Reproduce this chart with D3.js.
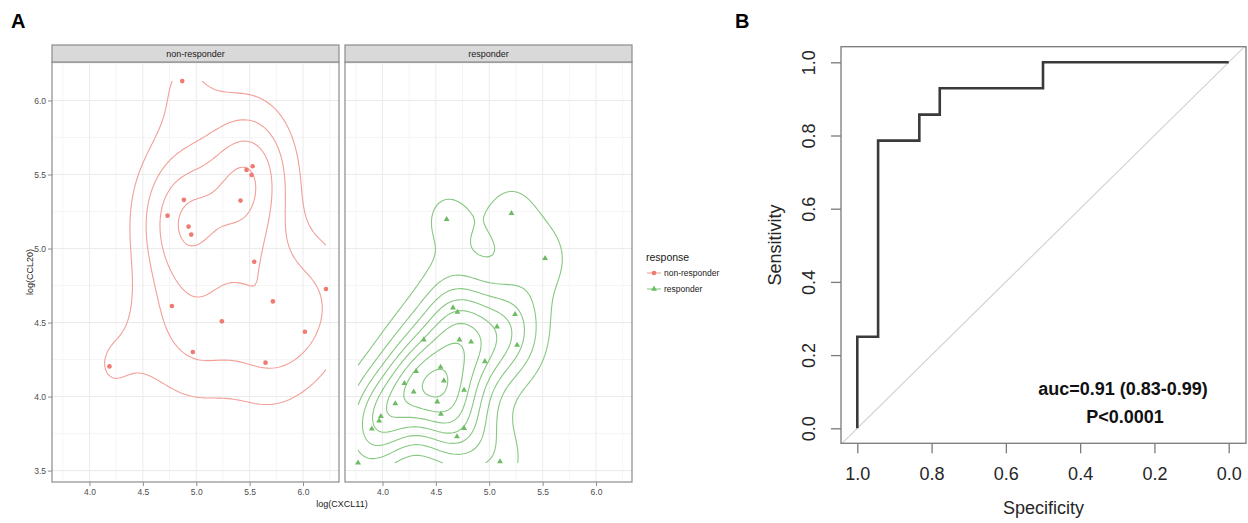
<!DOCTYPE html>
<html>
<head>
<meta charset="utf-8">
<script src="https://cdn.jsdelivr.net/npm/d3@7"></script>
<style>
body { margin: 0; background: #fff; }
text { font-family: "Liberation Sans", Arial, sans-serif; }
</style>
</head>
<body>
<div id="chart"></div>
<script>
// ---- data: panel A (log CXCL11 vs log CCL20, per response group)
var facets = ["non-responder", "responder"];
var nonRespX = [4.869, 5.471, 5.528, 5.518, 4.884, 5.415, 4.731, 4.928, 4.953, 5.543, 6.215, 5.718, 4.772, 5.240, 6.018, 4.968, 5.649, 4.187];
var nonRespY = [6.131, 5.531, 5.556, 5.497, 5.329, 5.324, 5.222, 5.148, 5.094, 4.911, 4.727, 4.643, 4.612, 4.508, 4.438, 4.301, 4.229, 4.204];
var respX = [4.601, 5.208, 5.523, 4.660, 4.702, 5.242, 5.073, 4.387, 4.721, 4.830, 5.261, 4.959, 4.544, 4.315, 4.575, 4.205, 4.764, 4.292, 4.120, 4.513, 4.547, 3.985, 3.969, 3.900, 4.764, 4.698, 3.771, 5.101];
var respY = [5.197, 5.238, 4.934, 4.600, 4.571, 4.555, 4.472, 4.384, 4.384, 4.370, 4.348, 4.237, 4.199, 4.170, 4.107, 4.089, 4.044, 4.032, 3.953, 3.965, 3.882, 3.866, 3.836, 3.782, 3.786, 3.730, 3.552, 3.561];
var xTicks = [4.0, 4.5, 5.0, 5.5, 6.0];
var yTicks = [3.5, 4.0, 4.5, 5.0, 5.5, 6.0];

// ---- data: panel B (ROC corners)
var rocSpec = [1, 1, 0.944, 0.944, 0.833, 0.833, 0.778, 0.778, 0.5, 0.5, 0];
var rocSens = [0, 0.25, 0.25, 0.786, 0.786, 0.857, 0.857, 0.929, 0.929, 1, 1];
var rocTicks = [1.0, 0.8, 0.6, 0.4, 0.2, 0.0];
var aucText = "auc=0.91 (0.83-0.99)";
var pText = "P<0.0001";

var colors = { "non-responder": "#EE7B72", "responder": "#6DBB63" };
var lineColors = { "non-responder": "#F2A098", "responder": "#88C882" };

var svg = d3.select("#chart").append("svg")
    .attr("width", 1248)
    .attr("height", 523);

// panel letters
svg.append("text").attr("x", 11).attr("y", 28).attr("font-size", 20).attr("font-weight", "bold").text("A");
svg.append("text").attr("x", 735).attr("y", 28).attr("font-size", 20).attr("font-weight", "bold").text("B");

// ================= panel A =================
var groups = [
    { name: facets[0], xs: nonRespX, ys: nonRespY },
    { name: facets[1], xs: respX, ys: respY }
];
var allX = nonRespX.concat(respX), allY = nonRespY.concat(respY);
var xr = d3.extent(allX), yr = d3.extent(allY);
var xPad = (xr[1] - xr[0]) * 0.05, yPad = (yr[1] - yr[0]) * 0.05;

var panelTop = 62, panelBottom = 482, panelW = 287;
var panelLefts = [52, 345];

var yScale = d3.scaleLinear()
    .domain([yr[0] - yPad, yr[1] + yPad])
    .range([panelBottom, panelTop]);

// MASS::bandwidth.nrd
function bwNrd(v) {
    var h = (d3.quantile(v, 0.75) - d3.quantile(v, 0.25)) / 1.34;
    return 4 * 1.06 * Math.min(d3.deviation(v), h) * Math.pow(v.length, -0.2);
}
function dnorm(u) { return Math.exp(-0.5 * u * u) / Math.sqrt(2 * Math.PI); }

// MASS::kde2d on a n x n grid over the lims
function kde2d(xs, ys, lims, n) {
    var hx = bwNrd(xs) / 4, hy = bwNrd(ys) / 4;
    var gx = d3.range(n).map(i => lims[0] + (lims[1] - lims[0]) * i / (n - 1));
    var gy = d3.range(n).map(i => lims[2] + (lims[3] - lims[2]) * i / (n - 1));
    var z = new Array(n * n);
    for (var j = 0; j < n; j++) {
        for (var i = 0; i < n; i++) {
            var s = 0;
            for (var k = 0; k < xs.length; k++) {
                s += dnorm((gx[i] - xs[k]) / hx) * dnorm((gy[j] - ys[k]) / hy);
            }
            z[i + j * n] = s / (xs.length * hx * hy);
        }
    }
    return { gx: gx, gy: gy, z: z };
}

// R's pretty()
function rPretty(lo, hi, ndiv) {
    var h = 1.5, h5 = 0.5 + 1.5 * h;
    var cell = (hi - lo) / ndiv;
    var base = Math.pow(10, Math.floor(Math.log10(cell)));
    var unit = base, ns;
    if ((ns = 2 * base) - cell < h * (cell - unit)) {
        unit = ns;
        if ((ns = 5 * base) - cell < h5 * (cell - unit)) {
            unit = ns;
            if ((ns = 10 * base) - cell < h * (cell - unit)) unit = ns;
        }
    }
    var a = Math.floor(lo / unit + 1e-7), b = Math.ceil(hi / unit - 1e-7);
    return d3.range(a, b + 1).map(k => k * unit);
}

var N = 100;
var lims = [xr[0], xr[1], yr[0], yr[1]];

// densities first, contour breaks are shared by both panels
groups.forEach(g => { g.dens = kde2d(g.xs, g.ys, lims, N); });
var zAll = groups[0].dens.z.concat(groups[1].dens.z);
var breaks = rPretty(d3.min(zAll), d3.max(zAll), 10);

groups.forEach(function(g, gi) {
    var left = panelLefts[gi];
    var xScale = d3.scaleLinear()
        .domain([xr[0] - xPad, xr[1] + xPad])
        .range([left, left + panelW]);
    var pg = svg.append("g");

    // grid
    var xMinor = d3.range(xTicks[0] - 0.25, xScale.domain()[1], 0.5);
    var yMinor = d3.range(yTicks[0] - 0.25, yScale.domain()[1], 0.5).filter(v => v > yScale.domain()[0]);
    pg.selectAll(".xminor").data(xMinor).enter().append("line")
        .attr("x1", d => xScale(d)).attr("x2", d => xScale(d))
        .attr("y1", panelTop).attr("y2", panelBottom)
        .attr("stroke", "#f5f5f5").attr("stroke-width", 1);
    pg.selectAll(".yminor").data(yMinor).enter().append("line")
        .attr("x1", left).attr("x2", left + panelW)
        .attr("y1", d => yScale(d)).attr("y2", d => yScale(d))
        .attr("stroke", "#f5f5f5").attr("stroke-width", 1);
    pg.selectAll(".xmajor").data(xTicks).enter().append("line")
        .attr("x1", d => xScale(d)).attr("x2", d => xScale(d))
        .attr("y1", panelTop).attr("y2", panelBottom)
        .attr("stroke", "#ebebeb").attr("stroke-width", 1);
    pg.selectAll(".ymajor").data(yTicks).enter().append("line")
        .attr("x1", left).attr("x2", left + panelW)
        .attr("y1", d => yScale(d)).attr("y2", d => yScale(d))
        .attr("stroke", "#ebebeb").attr("stroke-width", 1);

    // density contours
    var cont = d3.contours().size([N, N]).thresholds(breaks)(g.dens.z);
    var stepX = (lims[1] - lims[0]) / (N - 1), stepY = (lims[3] - lims[2]) / (N - 1);
    var toPx = p => [xScale(lims[0] + (p[0] - 0.5) * stepX), yScale(lims[2] + (p[1] - 0.5) * stepY)];
    var onEdge = p => p[0] <= 0 || p[0] >= N || p[1] <= 0 || p[1] >= N;
    var paths = [];
    cont.forEach(function(c) {
        c.coordinates.forEach(function(poly) {
            poly.forEach(function(ring) {
                var pts = ring.slice(0, ring.length - 1);
                var start = pts.findIndex(onEdge);
                if (start < 0) {
                    paths.push(pts.map(toPx).concat([toPx(pts[0])]));
                    return;
                }
                var cur = [];
                for (var k = 0; k <= pts.length; k++) {
                    var p = pts[(start + k) % pts.length];
                    if (onEdge(p)) {
                        if (cur.length > 1) paths.push(cur);
                        cur = [];
                    } else {
                        cur.push(toPx(p));
                    }
                }
                if (cur.length > 1) paths.push(cur);
            });
        });
    });
    pg.selectAll(".contour").data(paths).enter().append("path")
        .attr("d", d3.line())
        .attr("fill", "none")
        .attr("stroke", lineColors[g.name])
        .attr("stroke-width", 1.1);

    // points
    var pts = g.xs.map((x, i) => [x, g.ys[i]]);
    var sym = d3.symbol().type(gi === 0 ? d3.symbolCircle : d3.symbolTriangle).size(gi === 0 ? 17 : 15);
    pg.selectAll(".pt").data(pts).enter().append("path")
        .attr("d", sym)
        .attr("transform", d => `translate(${xScale(d[0])},${yScale(d[1])})`)
        .attr("fill", colors[g.name]);

    // panel border
    pg.append("rect")
        .attr("x", left).attr("y", panelTop)
        .attr("width", panelW).attr("height", panelBottom - panelTop)
        .attr("fill", "none").attr("stroke", "#8c8c8c").attr("stroke-width", 1.2);

    // strip
    pg.append("rect")
        .attr("x", left).attr("y", 45)
        .attr("width", panelW).attr("height", panelTop - 45)
        .attr("fill", "#d9d9d9").attr("stroke", "#8c8c8c").attr("stroke-width", 1.2);
    pg.append("text")
        .attr("x", left + panelW / 2).attr("y", 57)
        .attr("text-anchor", "middle").attr("font-size", 9).attr("fill", "#1a1a1a")
        .text(g.name);

    // x axis
    var xAxis = pg.append("g")
        .attr("transform", `translate(0,${panelBottom})`)
        .call(d3.axisBottom(xScale).tickValues(xTicks).tickSize(4).tickPadding(3).tickFormat(d3.format(".1f")));
    xAxis.select(".domain").remove();
    xAxis.selectAll("line").attr("stroke", "#8c8c8c");
    xAxis.selectAll("text").attr("font-size", 8.5).attr("fill", "#4d4d4d").style("font-family", "Liberation Sans, Arial, sans-serif");

    if (gi === 0) {
        var yAxis = pg.append("g")
            .attr("transform", `translate(${left},0)`)
            .call(d3.axisLeft(yScale).tickValues(yTicks).tickSize(4).tickPadding(2).tickFormat(d3.format(".1f")));
        yAxis.select(".domain").remove();
        yAxis.selectAll("line").attr("stroke", "#8c8c8c");
        yAxis.selectAll("text").attr("font-size", 8.5).attr("fill", "#4d4d4d").style("font-family", "Liberation Sans, Arial, sans-serif");
    }
});

// axis titles
svg.append("text")
    .attr("transform", `translate(33, ${(panelTop + panelBottom) / 2}) rotate(-90)`)
    .attr("text-anchor", "middle").attr("font-size", 9).attr("fill", "#1a1a1a")
    .text("log(CCL20)");
svg.append("text")
    .attr("x", (panelLefts[0] + panelLefts[1] + panelW) / 2).attr("y", 507)
    .attr("text-anchor", "middle").attr("font-size", 9).attr("fill", "#1a1a1a")
    .text("log(CXCL11)");

// legend
var legend = svg.append("g").attr("transform", "translate(645, 0)");
legend.append("text").attr("x", 1).attr("y", 261).attr("font-size", 10.5).attr("fill", "#1a1a1a").text("response");
facets.forEach(function(f, i) {
    var ly = 273 + i * 16;
    legend.append("line").attr("x1", 2).attr("x2", 16).attr("y1", ly).attr("y2", ly)
        .attr("stroke", lineColors[f]).attr("stroke-width", 1.1);
    legend.append("path")
        .attr("d", d3.symbol().type(i === 0 ? d3.symbolCircle : d3.symbolTriangle).size(i === 0 ? 17 : 15))
        .attr("transform", `translate(9,${ly})`)
        .attr("fill", colors[f]);
    legend.append("text").attr("x", 19).attr("y", ly + 3).attr("font-size", 8.5).attr("fill", "#1a1a1a").text(f);
});

// ================= panel B =================
var box = { left: 841, right: 1246, top: 46.7, bottom: 443.3 };
var xRoc = d3.scaleLinear().domain([1, 0]).range([857.3, 1228.7]);
var yRoc = d3.scaleLinear().domain([0, 1]).range([428.3, 62.3]);

svg.append("clipPath").attr("id", "rocClip")
    .append("rect")
    .attr("x", box.left).attr("y", box.top)
    .attr("width", box.right - box.left).attr("height", box.bottom - box.top);

// reference diagonal, extended over the whole plot region
var specL = xRoc.invert(box.left), specR = xRoc.invert(box.right);
svg.append("line")
    .attr("clip-path", "url(#rocClip)")
    .attr("x1", xRoc(specL)).attr("y1", yRoc(1 - specL))
    .attr("x2", xRoc(specR)).attr("y2", yRoc(1 - specR))
    .attr("stroke", "#d4d4d4").attr("stroke-width", 1.2);

var rocPts = rocSpec.map((s, i) => [s, rocSens[i]]);
svg.append("path")
    .datum(rocPts)
    .attr("d", d3.line().x(d => xRoc(d[0])).y(d => yRoc(d[1])))
    .attr("fill", "none")
    .attr("stroke", "#3a3a3a")
    .attr("stroke-width", 2.6);

svg.append("rect")
    .attr("x", box.left).attr("y", box.top)
    .attr("width", box.right - box.left).attr("height", box.bottom - box.top)
    .attr("fill", "none").attr("stroke", "#7a7a7a").attr("stroke-width", 1.3);

var xa = svg.append("g")
    .attr("transform", `translate(0,${box.bottom})`)
    .call(d3.axisBottom(xRoc).tickValues(rocTicks).tickSize(10).tickPadding(4).tickFormat(d3.format(".1f")));
xa.select(".domain").remove();
xa.selectAll("line").attr("stroke", "#7a7a7a").attr("stroke-width", 1.3);
xa.selectAll("text").attr("font-size", 18).attr("fill", "#262626").attr("dy", "1.25em")
    .style("font-family", "Liberation Sans, Arial, sans-serif");

var ya = svg.append("g")
    .attr("transform", `translate(${box.left},0)`)
    .call(d3.axisLeft(yRoc).tickValues(rocTicks).tickSize(10).tickFormat(d3.format(".1f")));
ya.select(".domain").remove();
ya.selectAll("line").attr("stroke", "#7a7a7a").attr("stroke-width", 1.3);
ya.selectAll("text")
    .attr("transform", "rotate(-90)")
    .attr("x", 0).attr("y", -26).attr("dy", 0)
    .attr("text-anchor", "middle")
    .attr("font-size", 18).attr("fill", "#262626")
    .style("font-family", "Liberation Sans, Arial, sans-serif");

svg.append("text")
    .attr("x", (box.left + box.right) / 2).attr("y", 514)
    .attr("text-anchor", "middle").attr("font-size", 18).attr("fill", "#262626")
    .text("Specificity");
svg.append("text")
    .attr("transform", `translate(781, ${(box.top + box.bottom) / 2}) rotate(-90)`)
    .attr("text-anchor", "middle").attr("font-size", 18).attr("fill", "#262626")
    .text("Sensitivity");

svg.append("text")
    .attr("x", 1123).attr("y", 395)
    .attr("text-anchor", "middle").attr("font-size", 18).attr("font-weight", "bold").attr("fill", "#111")
    .text(aucText);
svg.append("text")
    .attr("x", 1125).attr("y", 423)
    .attr("text-anchor", "middle").attr("font-size", 18).attr("font-weight", "bold").attr("fill", "#111")
    .text(pText);
</script>
</body>
</html>
